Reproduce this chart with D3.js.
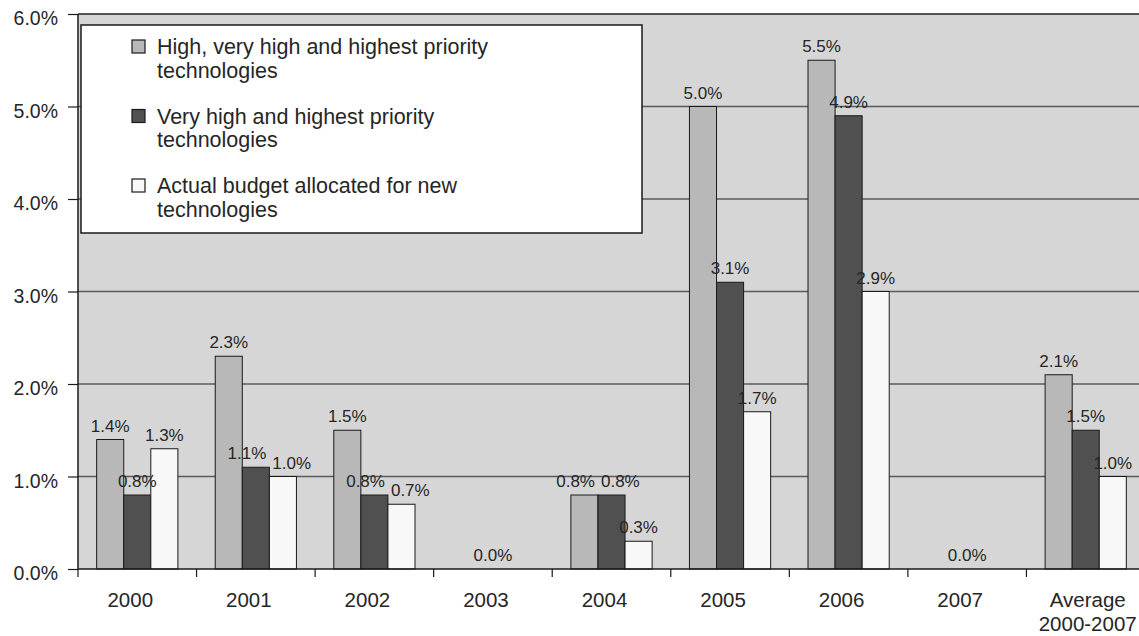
<!DOCTYPE html>
<html>
<head>
<meta charset="utf-8">
<script src="https://cdn.jsdelivr.net/npm/d3@7"></script>
<style>
  body { margin: 0; background: #fff; }
  text { font-family: "Liberation Sans", Arial, sans-serif; fill: #262626; }
</style>
</head>
<body>
<script>
// categories and series
var categories = ['2000', '2001', '2002', '2003', '2004', '2005', '2006', '2007', 'Average|2000-2007'];
var seriesNames = [
  ['High, very high and highest priority', 'technologies'],
  ['Very high and highest priority', 'technologies'],
  ['Actual budget allocated for new', 'technologies']
];
var highValues   = [1.4, 2.3, 1.5, 0, 0.8, 5.0, 5.5, 0, 2.1];
var veryValues   = [0.8, 1.1, 0.8, 0, 0.8, 3.1, 4.9, 0, 1.5];
var actualValues = [1.3, 1.0, 0.7, 0, 0.3, 1.7, 3.0, 0, 1.0];
var actualLabels = ['1.3%', '1.0%', '0.7%', '0.0%', '0.3%', '1.7%', '2.9%', '0.0%', '1.0%'];
var yTicks = [0, 1, 2, 3, 4, 5, 6];

var colors = ['#b8b8b8', '#505050', '#f8f8f8'];

var W = 1139, H = 636;
var pLeft = 78, pTop = 14, pBottom = 569, pRight = 1145;

var svg = d3.select('body').append('svg').attr('width', W).attr('height', H);

var x = d3.scaleBand().domain(categories).range([pLeft, pRight]);
var y = d3.scaleLinear().domain([0, 6]).range([pBottom, pTop]);
var groupW = x.bandwidth() * 0.685;
var xs = d3.scaleBand().domain([0, 1, 2]).range([0, groupW]);

// plot background
svg.append('rect').attr('x', pLeft).attr('y', pTop).attr('width', pRight - pLeft).attr('height', pBottom - pTop)
  .attr('fill', '#d6d6d6');

// gridlines
svg.selectAll('.grid').data(yTicks.filter(function(d){ return d > 0; })).enter().append('line')
  .attr('x1', pLeft).attr('x2', pRight)
  .attr('y1', function(d){ return y(d); }).attr('y2', function(d){ return y(d); })
  .attr('stroke', function(d){ return d == 6 ? '#222' : '#5a5a5a'; })
  .attr('stroke-width', 1.5);

// bars
var series = [highValues, veryValues, actualValues];
var bars = [];
categories.forEach(function(c, i){
  series.forEach(function(s, j){
    bars.push({c: c, i: i, j: j, v: s[i], label: j == 2 ? actualLabels[i] : d3.format('.1f')(s[i]) + '%'});
  });
});

var gx = function(d){ return x(d.c) + (x.bandwidth() - groupW) / 2 + xs(d.j); };

svg.selectAll('.bar').data(bars.filter(function(d){ return d.v > 0; })).enter().append('rect')
  .attr('x', gx)
  .attr('y', function(d){ return y(d.v); })
  .attr('width', xs.bandwidth())
  .attr('height', function(d){ return y(0) - y(d.v); })
  .attr('fill', function(d){ return colors[d.j]; })
  .attr('stroke', '#1a1a1a').attr('stroke-width', 1);

// value labels (zero groups only get one centered label)
var labels = svg.selectAll('.lbl').data(bars.filter(function(d){ return d.v > 0 || d.j == 1; })).enter().append('text')
  .attr('y', function(d){ return y(d.v) - 8; })
  .attr('text-anchor', 'middle')
  .style('font-size', '17px')
  .text(function(d){ return d.label; });

// push apart labels that collide inside a group
labels.each(function(d){
  d.w = this.getComputedTextLength();
  d.cx = gx(d) + xs.bandwidth() / 2;
  d.ly = y(d.v) - 8;
});
d3.groups(labels.data(), function(d){ return d.i; }).forEach(function(g){
  var ls = g[1];
  for (var k = 1; k < ls.length; k++) {
    var a = ls[k - 1], b = ls[k];
    if (Math.abs(a.ly - b.ly) < 16) {
      var need = (a.cx + a.w / 2 + 6) - (b.cx - b.w / 2);
      if (need > 0) { a.cx -= need / 2; b.cx += need / 2; }
    }
  }
});
labels.attr('x', function(d){ return d.cx; });

// y axis
var yAxis = svg.append('g').attr('transform', 'translate(' + pLeft + ',0)')
  .call(d3.axisLeft(y).tickValues(yTicks).tickSize(10).tickPadding(10).tickFormat(function(d){ return d3.format('.1f')(d) + '%'; }));
yAxis.select('.domain').attr('stroke', '#1a1a1a').attr('stroke-width', 1.5).attr('d', 'M0,' + pTop + 'V' + pBottom);
yAxis.selectAll('.tick line').attr('stroke', '#1a1a1a').attr('stroke-width', 1.2);
yAxis.selectAll('.tick text').style('font-size', '19.5px').attr('dy', '0.55em').attr('fill', '#262626')
  .style('font-family', '"Liberation Sans", Arial, sans-serif');

// x axis baseline and ticks at band edges
svg.append('line').attr('x1', pLeft).attr('x2', pRight).attr('y1', pBottom).attr('y2', pBottom)
  .attr('stroke', '#1a1a1a').attr('stroke-width', 1.5);
svg.selectAll('.xtick').data(categories).enter().append('line')
  .attr('x1', function(d){ return x(d); }).attr('x2', function(d){ return x(d); })
  .attr('y1', pBottom).attr('y2', pBottom + 8)
  .attr('stroke', '#1a1a1a').attr('stroke-width', 1.2);

var xl = svg.selectAll('.xl').data(categories).enter().append('text')
  .attr('x', function(d){ return x(d) + x.bandwidth() / 2 + (d.indexOf('|') > 0 ? 2 : -7); })
  .attr('y', 607)
  .attr('text-anchor', 'middle')
  .style('font-size', '20.5px');
xl.each(function(d){
  var parts = d.split('|');
  var t = d3.select(this);
  parts.forEach(function(p, k){
    t.append('tspan').attr('x', t.attr('x')).attr('dy', k == 0 ? 0 : 24).text(p);
  });
});

// legend
var lg = svg.append('g');
lg.append('rect').attr('x', 81).attr('y', 25).attr('width', 561).attr('height', 208)
  .attr('fill', '#fff').attr('stroke', '#1a1a1a').attr('stroke-width', 1.5);
seriesNames.forEach(function(n, j){
  var base = 54 + j * 69.5;
  lg.append('rect').attr('x', 132).attr('y', base - 14).attr('width', 13).attr('height', 13)
    .attr('fill', colors[j]).attr('stroke', '#1a1a1a').attr('stroke-width', 1.2);
  var t = lg.append('text').attr('x', 157).attr('y', base).style('font-size', '21.5px');
  n.forEach(function(line, k){
    t.append('tspan').attr('x', 157).attr('dy', k == 0 ? 0 : 23.5).text(line);
  });
});
</script>
</body>
</html>
